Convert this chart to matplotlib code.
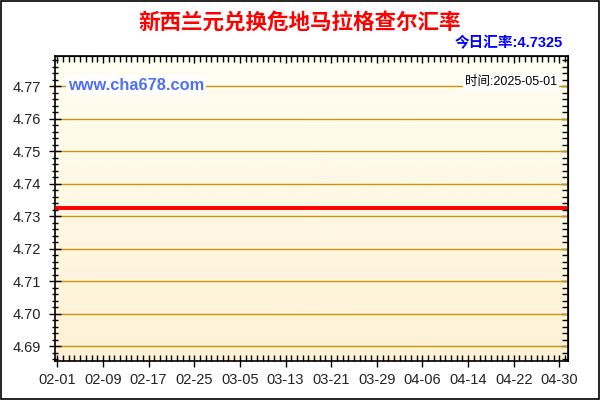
import numpy as np
import matplotlib
matplotlib.use("Agg")
import matplotlib.pyplot as plt
import matplotlib.dates as mdates
import pandas as pd

plt.rcParams['font.family'] = ['Liberation Sans', 'Noto Sans CJK SC', 'DejaVu Sans']

# Data: NZD -> GTQ, flat rate over the period
dates = pd.date_range("2025-02-01", "2025-05-01", freq="D")
rates = [4.7325] * len(dates)
title = "新西兰元兑换危地马拉格查尔汇率"
today_rate = "今日汇率:4.7325"
stamp = "时间:2025-05-01"
site = "www.cha678.com"
yticks = [4.69, 4.70, 4.71, 4.72, 4.73, 4.74, 4.75, 4.76, 4.77]

fig = plt.figure(figsize=(6, 4), dpi=100)
fig.patch.set_facecolor("white")
# outer frame
fig.add_artist(plt.Rectangle((0.001, 0.0015), 0.997, 0.996, transform=fig.transFigure,
                             fill=False, edgecolor="black", linewidth=1.2))

ax = fig.add_axes([55 / 600, 39 / 400, 513 / 600, 305 / 400])

# background gradient (light cream at top -> warmer at bottom)
top = np.array([254, 254, 242]) / 255
bot = np.array([254, 241, 214]) / 255
t = np.linspace(0, 1, 256)[:, None]
grad = (top * (1 - t) + bot * t)[:, None, :]
ax.imshow(grad, extent=[0, 1, 0, 1], transform=ax.transAxes, aspect="auto", zorder=0)

ax.plot(dates, rates, color="#ff0000", linewidth=2.8, zorder=3)

x0 = mdates.date2num(pd.Timestamp("2025-02-01"))
ax.set_xlim(x0 - 0.4, x0 + 89.5)
ax.set_ylim(4.6854, 4.7793)
ax.set_yticks(yticks)
ax.yaxis.set_major_formatter(plt.FormatStrFormatter("%.2f"))
ax.yaxis.set_minor_locator(plt.MultipleLocator(0.002))

xt = pd.date_range("2025-02-01", "2025-04-30", freq="8D")
ax.set_xticks(xt)
ax.xaxis.set_major_formatter(mdates.DateFormatter("%m-%d"))
ax.xaxis.set_minor_locator(mdates.DayLocator())

ax.grid(axis="y", which="major", color="#c8960a", linewidth=1.0, zorder=1)

ax.tick_params(axis="y", which="major", direction="inout", length=8, width=1,
               labelsize=10.5, pad=6, labelcolor="#222222")
ax.tick_params(axis="y", which="minor", direction="inout", length=5, width=1)
ax.tick_params(axis="x", which="major", direction="inout", length=9, width=1,
               labelsize=10.5, pad=4, labelcolor="#222222")
ax.tick_params(axis="x", which="minor", direction="in", length=4, width=1)
for sp in ax.spines.values():
    sp.set_linewidth(1.2)

# inward ticks on right and top
axr = ax.secondary_yaxis("right")
axr.set_yticks(yticks)
axr.yaxis.set_minor_locator(plt.MultipleLocator(0.002))
axr.tick_params(which="major", direction="in", length=5, width=1, labelright=False)
axr.tick_params(which="minor", direction="in", length=4, width=1)
axt = ax.secondary_xaxis("top")
axt.set_xticks(xt)
axt.xaxis.set_minor_locator(mdates.DayLocator())
axt.tick_params(which="major", direction="in", length=5, width=1, labeltop=False)
axt.tick_params(which="minor", direction="in", length=4, width=1)

fig.text(0.5, 0.942, title, ha="center", va="center", color="#ff0000",
         fontsize=15.5, fontweight="bold", family=["Noto Sans CJK SC"])
fig.text(563 / 600, 1 - 43 / 400, today_rate, ha="right", va="center", color="#0000ff",
         fontsize=10.5, fontweight="bold", family=["Liberation Sans", "Noto Sans CJK SC"])

fig.text(68 / 600, 1 - 85 / 400, site, ha="left", va="center", color="#4f6ff2",
         fontsize=11.8, fontweight="bold",
         bbox=dict(facecolor="white", edgecolor="none", pad=1.5), zorder=5)
fig.text(557 / 600, 1 - 82 / 400, stamp, ha="right", va="center", color="black",
         fontsize=9, family=["Liberation Sans", "Noto Sans CJK SC"],
         bbox=dict(facecolor="white", edgecolor="none", pad=1.5), zorder=5)

fig.savefig("out.png", dpi=100)
